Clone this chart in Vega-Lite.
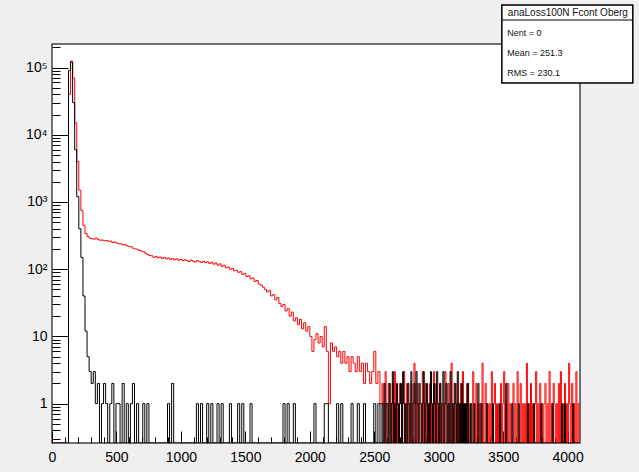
{
"$schema": "https://vega.github.io/schema/vega-lite/v6.json",
"width": 528, "height": 399,
"autosize": {"type": "none"},
"padding": {"left": 52, "top": 44, "right": 59, "bottom": 29},
"background": "#efefef",
"config": {"view": {"fill": "white", "stroke": "#444", "strokeWidth": 1.5}, "font": "Liberation Sans"},
"layer": [
{
"data": {"values": [
{"x":0,"r":0,"b":0},{"x":16,"r":0,"b":0},{"x":32,"r":0,"b":0},{"x":48,"r":0,"b":0},{"x":64,"r":0,"b":0},{"x":80,"r":0,"b":0},{"x":96,"r":0,"b":0},{"x":112,"r":0,"b":0},
{"x":128,"r":40000,"b":90000},{"x":144,"r":125000,"b":120000},{"x":160,"r":70000,"b":30000},{"x":176,"r":15000,"b":6000},{"x":192,"r":4000,"b":1200},{"x":208,"r":1500,"b":400},{"x":224,"r":750,"b":150},{"x":240,"r":450,"b":40},
{"x":256,"r":340,"b":12},{"x":272,"r":305,"b":5},{"x":288,"r":290,"b":3},{"x":304,"r":285,"b":2},{"x":320,"r":280,"b":3},{"x":336,"r":290,"b":1},{"x":352,"r":275,"b":2},{"x":368,"r":270,"b":0},
{"x":384,"r":272,"b":1},{"x":400,"r":265,"b":2},{"x":416,"r":268,"b":1},{"x":432,"r":260,"b":0},{"x":448,"r":262,"b":1},{"x":464,"r":250,"b":2},{"x":480,"r":255,"b":0},{"x":496,"r":245,"b":1},
{"x":512,"r":240,"b":1},{"x":528,"r":238,"b":0},{"x":544,"r":230,"b":2},{"x":560,"r":232,"b":0},{"x":576,"r":222,"b":1},{"x":592,"r":218,"b":0},{"x":608,"r":215,"b":1},{"x":624,"r":205,"b":2},
{"x":640,"r":200,"b":0},{"x":656,"r":198,"b":1},{"x":672,"r":190,"b":0},{"x":688,"r":185,"b":0},{"x":704,"r":182,"b":1},{"x":720,"r":172,"b":0},{"x":736,"r":165,"b":1},{"x":752,"r":160,"b":0},
{"x":768,"r":158,"b":0},{"x":784,"r":150,"b":0},{"x":800,"r":155,"b":0},{"x":816,"r":148,"b":0},{"x":832,"r":152,"b":0},{"x":848,"r":145,"b":0},{"x":864,"r":150,"b":0},{"x":880,"r":142,"b":0},
{"x":896,"r":147,"b":1},{"x":912,"r":140,"b":0},{"x":928,"r":145,"b":2},{"x":944,"r":138,"b":0},{"x":960,"r":143,"b":0},{"x":976,"r":136,"b":0},{"x":992,"r":140,"b":0},{"x":1008,"r":134,"b":0},
{"x":1024,"r":138,"b":0},{"x":1040,"r":135,"b":0},{"x":1056,"r":130,"b":0},{"x":1072,"r":137,"b":0},{"x":1088,"r":132,"b":0},{"x":1104,"r":128,"b":0},{"x":1120,"r":134,"b":1},{"x":1136,"r":130,"b":0},
{"x":1152,"r":126,"b":1},{"x":1168,"r":131,"b":0},{"x":1184,"r":125,"b":0},{"x":1200,"r":129,"b":1},{"x":1216,"r":122,"b":0},{"x":1232,"r":127,"b":1},{"x":1248,"r":119,"b":0},{"x":1264,"r":124,"b":0},
{"x":1280,"r":115,"b":1},{"x":1296,"r":120,"b":0},{"x":1312,"r":110,"b":1},{"x":1328,"r":114,"b":0},{"x":1344,"r":105,"b":0},{"x":1360,"r":108,"b":0},{"x":1376,"r":100,"b":1},{"x":1392,"r":103,"b":0},
{"x":1408,"r":95,"b":0},{"x":1424,"r":97,"b":0},{"x":1440,"r":90,"b":1},{"x":1456,"r":92,"b":0},{"x":1472,"r":84,"b":1},{"x":1488,"r":86,"b":0},{"x":1504,"r":78,"b":0},{"x":1520,"r":80,"b":0},
{"x":1536,"r":72,"b":1},{"x":1552,"r":74,"b":0},{"x":1568,"r":66,"b":0},{"x":1584,"r":68,"b":0},{"x":1600,"r":60,"b":0},{"x":1616,"r":58,"b":0},{"x":1632,"r":54,"b":0},{"x":1648,"r":50,"b":0},
{"x":1664,"r":46,"b":0},{"x":1680,"r":48,"b":0},{"x":1696,"r":40,"b":0},{"x":1712,"r":42,"b":0},{"x":1728,"r":35,"b":0},{"x":1744,"r":38,"b":0},{"x":1760,"r":31,"b":0},{"x":1776,"r":28,"b":0},
{"x":1792,"r":30,"b":1},{"x":1808,"r":24,"b":0},{"x":1824,"r":26,"b":1},{"x":1840,"r":20,"b":0},{"x":1856,"r":23,"b":0},{"x":1872,"r":17,"b":1},{"x":1888,"r":19,"b":0},{"x":1904,"r":15,"b":0},
{"x":1920,"r":18,"b":0},{"x":1936,"r":13,"b":0},{"x":1952,"r":16,"b":0},{"x":1968,"r":12,"b":0},{"x":1984,"r":14,"b":0},{"x":2000,"r":10,"b":0},{"x":2016,"r":6,"b":0},{"x":2032,"r":9,"b":1},
{"x":2048,"r":11,"b":0},{"x":2064,"r":8,"b":0},{"x":2080,"r":10,"b":0},{"x":2096,"r":7,"b":0},{"x":2112,"r":14,"b":1},{"x":2128,"r":6,"b":1},{"x":2144,"r":1,"b":0},{"x":2160,"r":8,"b":0},
{"x":2176,"r":6,"b":0},{"x":2192,"r":7,"b":0},{"x":2208,"r":5,"b":1},{"x":2224,"r":6,"b":0},{"x":2240,"r":4,"b":1},{"x":2256,"r":6,"b":0},{"x":2272,"r":4,"b":0},{"x":2288,"r":5,"b":0},
{"x":2304,"r":3,"b":0},{"x":2320,"r":5,"b":1},{"x":2336,"r":4,"b":0},{"x":2352,"r":3,"b":0},{"x":2368,"r":5,"b":1},{"x":2384,"r":3,"b":0},{"x":2400,"r":4,"b":0},{"x":2416,"r":2,"b":1},
{"x":2432,"r":4,"b":0},{"x":2448,"r":3,"b":0},{"x":2464,"r":2,"b":0},{"x":2480,"r":3,"b":0},{"x":2496,"r":6,"b":1},{"x":2512,"r":2,"b":0},{"x":2528,"r":3,"b":1},{"x":2544,"r":1,"b":0},
{"x":2560,"r":2,"b":1},{"x":2568,"r":1,"b":0},{"x":2576,"r":0,"b":2},{"x":2584,"r":3,"b":0},{"x":2592,"r":1,"b":1},{"x":2600,"r":0,"b":1},{"x":2608,"r":2,"b":0},{"x":2616,"r":1,"b":2},
{"x":2624,"r":1,"b":0},{"x":2632,"r":0,"b":1},{"x":2640,"r":2,"b":3},{"x":2648,"r":0,"b":0},{"x":2656,"r":3,"b":1},{"x":2664,"r":1,"b":0},{"x":2672,"r":0,"b":2},{"x":2680,"r":1,"b":1},
{"x":2688,"r":0,"b":0},{"x":2696,"r":2,"b":1},{"x":2704,"r":1,"b":2},{"x":2712,"r":0,"b":0},{"x":2720,"r":1,"b":3},{"x":2728,"r":3,"b":1},{"x":2736,"r":0,"b":0},{"x":2744,"r":1,"b":1},
{"x":2752,"r":2,"b":0},{"x":2760,"r":0,"b":2},{"x":2768,"r":1,"b":1},{"x":2776,"r":0,"b":0},{"x":2784,"r":2,"b":3},{"x":2792,"r":1,"b":0},{"x":2800,"r":0,"b":1},{"x":2808,"r":4,"b":2},
{"x":2816,"r":1,"b":0},{"x":2824,"r":0,"b":3},{"x":2832,"r":2,"b":1},{"x":2840,"r":0,"b":0},{"x":2848,"r":1,"b":2},{"x":2856,"r":1,"b":1},{"x":2864,"r":0,"b":0},{"x":2872,"r":3,"b":1},
{"x":2880,"r":0,"b":3},{"x":2888,"r":1,"b":0},{"x":2896,"r":2,"b":1},{"x":2904,"r":0,"b":2},{"x":2912,"r":1,"b":0},{"x":2920,"r":0,"b":1},{"x":2928,"r":2,"b":0},{"x":2936,"r":1,"b":3},
{"x":2944,"r":0,"b":1},{"x":2952,"r":1,"b":0},{"x":2960,"r":3,"b":2},{"x":2968,"r":0,"b":1},{"x":2976,"r":2,"b":0},{"x":2984,"r":0,"b":3},{"x":2992,"r":1,"b":1},{"x":3000,"r":0,"b":0},
{"x":3008,"r":2,"b":2},{"x":3016,"r":1,"b":0},{"x":3024,"r":0,"b":1},{"x":3032,"r":1,"b":3},{"x":3040,"r":0,"b":0},{"x":3048,"r":3,"b":1},{"x":3056,"r":1,"b":2},{"x":3064,"r":0,"b":0},
{"x":3072,"r":2,"b":1},{"x":3080,"r":0,"b":0},{"x":3088,"r":1,"b":3},{"x":3096,"r":4,"b":0},{"x":3104,"r":0,"b":1},{"x":3112,"r":1,"b":0},{"x":3120,"r":0,"b":2},{"x":3128,"r":2,"b":1},
{"x":3136,"r":0,"b":0},{"x":3144,"r":1,"b":3},{"x":3152,"r":1,"b":0},{"x":3160,"r":0,"b":1},{"x":3168,"r":2,"b":0},{"x":3176,"r":0,"b":2},{"x":3184,"r":3,"b":0},{"x":3192,"r":0,"b":1},
{"x":3200,"r":1,"b":0},{"x":3208,"r":0,"b":1},{"x":3216,"r":2,"b":0},{"x":3224,"r":1,"b":2},{"x":3232,"r":0,"b":0},{"x":3240,"r":1,"b":0},{"x":3248,"r":0,"b":1},{"x":3256,"r":0,"b":0},
{"x":3264,"r":3,"b":0},{"x":3272,"r":1,"b":1},{"x":3280,"r":0,"b":0},{"x":3288,"r":2,"b":0},{"x":3296,"r":0,"b":0},{"x":3304,"r":1,"b":2},{"x":3312,"r":0,"b":0},{"x":3320,"r":1,"b":0},
{"x":3328,"r":0,"b":1},{"x":3336,"r":4,"b":0},{"x":3344,"r":0,"b":0},{"x":3352,"r":1,"b":0},{"x":3360,"r":2,"b":0},{"x":3368,"r":0,"b":1},{"x":3376,"r":1,"b":0},{"x":3384,"r":0,"b":0},
{"x":3392,"r":1,"b":0},{"x":3400,"r":0,"b":0},{"x":3408,"r":3,"b":0},{"x":3416,"r":0,"b":1},{"x":3424,"r":1,"b":0},{"x":3432,"r":2,"b":0},{"x":3440,"r":0,"b":0},{"x":3448,"r":1,"b":0},
{"x":3456,"r":0,"b":0},{"x":3464,"r":1,"b":0},{"x":3472,"r":0,"b":1},{"x":3480,"r":2,"b":0},{"x":3488,"r":0,"b":0},{"x":3496,"r":1,"b":0},{"x":3504,"r":3,"b":0},{"x":3512,"r":0,"b":0},
{"x":3520,"r":1,"b":2},{"x":3528,"r":0,"b":0},{"x":3536,"r":2,"b":0},{"x":3544,"r":0,"b":0},{"x":3552,"r":1,"b":0},{"x":3560,"r":0,"b":0},{"x":3568,"r":1,"b":1},{"x":3576,"r":2,"b":0},
{"x":3584,"r":0,"b":0},{"x":3592,"r":1,"b":0},{"x":3600,"r":0,"b":0},{"x":3608,"r":3,"b":0},{"x":3616,"r":1,"b":1},{"x":3624,"r":0,"b":0},{"x":3632,"r":2,"b":0},{"x":3640,"r":0,"b":0},
{"x":3648,"r":1,"b":0},{"x":3656,"r":0,"b":0},{"x":3664,"r":1,"b":0},{"x":3672,"r":0,"b":0},{"x":3680,"r":4,"b":0},{"x":3688,"r":0,"b":1},{"x":3696,"r":1,"b":0},{"x":3704,"r":0,"b":0},
{"x":3712,"r":2,"b":0},{"x":3720,"r":0,"b":0},{"x":3728,"r":1,"b":0},{"x":3736,"r":0,"b":1},{"x":3744,"r":1,"b":0},{"x":3752,"r":3,"b":0},{"x":3760,"r":0,"b":0},{"x":3768,"r":1,"b":0},
{"x":3776,"r":0,"b":0},{"x":3784,"r":2,"b":0},{"x":3792,"r":0,"b":1},{"x":3800,"r":1,"b":0},{"x":3808,"r":0,"b":0},{"x":3816,"r":1,"b":0},{"x":3824,"r":2,"b":0},{"x":3832,"r":0,"b":0},
{"x":3840,"r":1,"b":0},{"x":3848,"r":0,"b":0},{"x":3856,"r":3,"b":0},{"x":3864,"r":0,"b":0},{"x":3872,"r":1,"b":0},{"x":3880,"r":0,"b":1},{"x":3888,"r":2,"b":0},{"x":3896,"r":1,"b":0},
{"x":3904,"r":0,"b":0},{"x":3912,"r":1,"b":0},{"x":3920,"r":0,"b":0},{"x":3928,"r":2,"b":0},{"x":3936,"r":0,"b":0},{"x":3944,"r":3,"b":0},{"x":3952,"r":0,"b":1},{"x":3960,"r":1,"b":0},
{"x":3968,"r":0,"b":0},{"x":3976,"r":2,"b":1},{"x":3984,"r":0,"b":0},{"x":3992,"r":1,"b":0},{"x":4000,"r":0,"b":0},{"x":4008,"r":4,"b":0},{"x":4016,"r":1,"b":0},{"x":4024,"r":0,"b":0},
{"x":4032,"r":2,"b":0},{"x":4040,"r":0,"b":1},{"x":4048,"r":1,"b":0},{"x":4056,"r":0,"b":0},{"x":4064,"r":3,"b":0},{"x":4072,"r":0,"b":0},{"x":4080,"r":1,"b":0},{"x":4088,"r":0,"b":0},
{"x":4096,"r":0,"b":0}
]},
"transform": [{"fold": ["r", "b"], "as": ["s", "count"]}],
"mark": {"type": "line", "interpolate": "step-after", "strokeWidth": 1, "clip": true},
"encoding": {
"x": {"field": "x", "type": "quantitative",
 "scale": {"domain": [0, 4096], "nice": false, "zero": false},
 "axis": {"title": null, "domain": false, "grid": false,
  "values": [0,100,200,300,400,500,600,700,800,900,1000,1100,1200,1300,1400,1500,1600,1700,1800,1900,2000,2100,2200,2300,2400,2500,2600,2700,2800,2900,3000,3100,3200,3300,3400,3500,3600,3700,3800,3900,4000],
  "labelExpr": "datum.value % 500 == 0 ? format(datum.value, 'd') : ''",
  "labelOverlap": false, "labelFlush": false, "labelBound": false,
  "labelFont": "Liberation Sans", "labelFontSize": 14, "labelColor": "#000",
  "tickColor": "#000", "tickWidth": 1, "labelPadding": 19,
  "tickSize": {"condition": {"test": "datum.value % 500 == 0", "value": -12}, "value": -6}
 }},
"y": {"field": "count", "type": "quantitative",
 "scale": {"type": "log", "domain": [0.26, 224000], "nice": false, "clamp": true},
 "axis": {"title": null, "domain": false, "grid": false,
  "values": [0.3,0.4,0.5,0.6,0.7,0.8,0.9,1,2,3,4,5,6,7,8,9,10,20,30,40,50,60,70,80,90,100,200,300,400,500,600,700,800,900,1000,2000,3000,4000,5000,6000,7000,8000,9000,10000,20000,30000,40000,50000,60000,70000,80000,90000,100000,200000],
  "labelExpr": "datum.value == 1 ? '1' : datum.value == 10 ? '10' : datum.value == 100 ? '10²' : datum.value == 1000 ? '10³' : datum.value == 10000 ? '10⁴' : datum.value == 100000 ? '10⁵' : ''",
  "labelOverlap": false, "labelFlush": false, "labelBound": false,
  "labelFont": "Liberation Sans", "labelFontSize": 14, "labelColor": "#000",
  "tickColor": "#000", "tickWidth": 1, "labelPadding": 21,
  "tickSize": {"condition": {"test": "indexof([1,10,100,1000,10000,100000], datum.value) >= 0", "value": -16}, "value": -8}
 }},
"color": {"field": "s", "type": "nominal", "scale": {"domain": ["r", "b"], "range": ["#ff0000", "#000000"]}, "legend": null}
}
},
{
"data": {"values": [
{"k": 0, "t": "anaLoss100N Fcont Oberg"},
{"k": 1, "t": "Nent = 0"},
{"k": 2, "t": "Mean  =  251.3"},
{"k": 3, "t": "RMS   =  230.1"}
]},
"layer": [
{
"transform": [{"filter": "datum.k == 0"}],
"mark": {"type": "rect", "fill": "white", "stroke": "#000", "strokeWidth": 1.5},
"encoding": {
"x": {"datum": 0.852, "type": "quantitative", "scale": {"domain": [0, 1], "nice": false, "zero": false}, "axis": null},
"x2": {"datum": 1.1},
"y": {"datum": -0.4, "type": "quantitative", "scale": {"domain": [1.55, 21.5], "reverse": true, "nice": false, "zero": false}, "axis": null},
"y2": {"datum": 3.5}
}
},
{
"transform": [{"filter": "datum.k == 0"}],
"mark": {"type": "rule", "stroke": "#000", "strokeWidth": 1},
"encoding": {
"x": {"datum": 0.852, "type": "quantitative"},
"x2": {"datum": 1.1},
"y": {"datum": 0.35, "type": "quantitative"}
}
},
{
"transform": [{"filter": "datum.k == 0"}],
"mark": {"type": "text", "align": "center", "baseline": "middle", "font": "Liberation Sans", "fontSize": 10, "color": "#111"},
"encoding": {
"x": {"datum": 0.977, "type": "quantitative"},
"y": {"field": "k", "type": "quantitative"},
"text": {"field": "t"}
}
},
{
"transform": [{"filter": "datum.k > 0"}],
"mark": {"type": "text", "align": "left", "baseline": "middle", "font": "Liberation Sans", "fontSize": 9, "color": "#111"},
"encoding": {
"x": {"datum": 0.862, "type": "quantitative"},
"y": {"field": "k", "type": "quantitative"},
"text": {"field": "t"}
}
}
]
}
],
"resolve": {"scale": {"x": "independent", "y": "independent"}, "axis": {"x": "independent", "y": "independent"}}
}
